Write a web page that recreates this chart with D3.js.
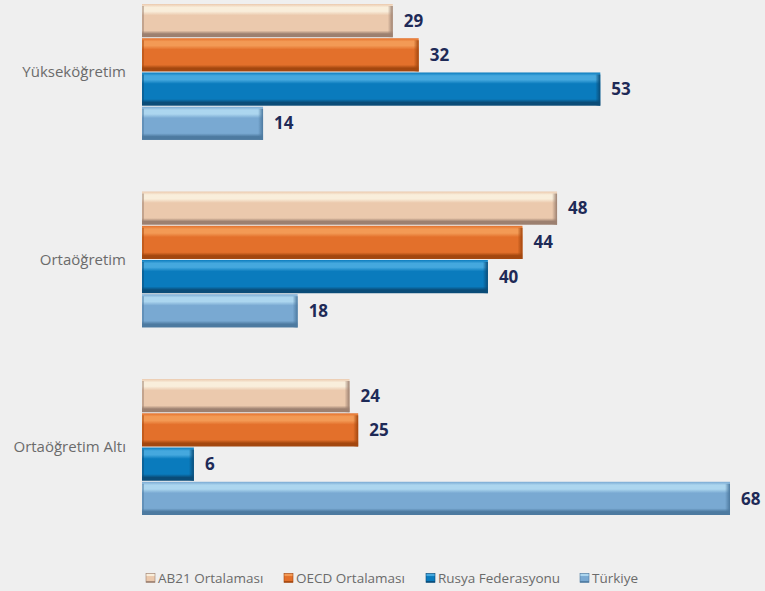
<!DOCTYPE html>
<meta charset="utf-8">
<style>
 body { margin: 0; background: #efefef; }
 .cat text { font: 15px "Open Sans", sans-serif; fill: #6b6b6b; }
 .val { font: bold 17px "Open Sans", sans-serif; fill: #1e2a57; }
 .legend text { font: 13.5px "Open Sans", sans-serif; fill: #6b6b6b; }
</style>

<svg class="chart"></svg>

<script src="https://cdn.jsdelivr.net/npm/d3@7"></script>

<script>
 var width = 765, height = 591;

 var categories = ["Yükseköğretim", "Ortaöğretim", "Ortaöğretim Altı"];
 var series = ["AB21 Ortalaması", "OECD Ortalaması", "Rusya Federasyonu", "Türkiye"];

 // values per series, in category order
 var ab21 = [29, 48, 24];
 var oecd = [32, 44, 25];
 var rusya = [53, 40, 6];
 var turkiye = [14, 18, 68];

 // base, highlight, dark edge
 var colors = [
     ["#ebc9ad", "#f9eedb", "#9c8070"],
     ["#e3702b", "#f39a55", "#a3470f"],
     ["#0a7bbd", "#45a8de", "#0a4c78"],
     ["#79a9d2", "#acd6ef", "#4d7aa0"]
 ];

 var values = [ab21, oecd, rusya, turkiye];

 var rows = [];
 categories.forEach(function(c, ci) {
     series.forEach(function(s, si) {
         rows.push({cat: c, series: s, si: si, value: values[si][ci]});
     });
 });

 var svg = d3.select(".chart").attr("width", width).attr("height", height);

 var defs = svg.append("defs");
 colors.forEach(function(col, i) {
     var g = defs.append("linearGradient").attr("id", "grad" + i)
                 .attr("x1", 0).attr("y1", 0).attr("x2", 0).attr("y2", 1);
     g.append("stop").attr("offset", "0%").attr("stop-color", col[0]);
     g.append("stop").attr("offset", "10%").attr("stop-color", col[1]);
     g.append("stop").attr("offset", "22%").attr("stop-color", col[1]);
     g.append("stop").attr("offset", "34%").attr("stop-color", col[0]);
     g.append("stop").attr("offset", "80%").attr("stop-color", col[0]);
     g.append("stop").attr("offset", "90%").attr("stop-color", col[2]);
     g.append("stop").attr("offset", "100%").attr("stop-color", col[2]);

     var e = defs.append("linearGradient").attr("id", "edge" + i)
                 .attr("x1", 0).attr("y1", 0).attr("x2", 1).attr("y2", 0);
     e.append("stop").attr("offset", "0%").attr("stop-color", col[2]).attr("stop-opacity", 0);
     e.append("stop").attr("offset", "100%").attr("stop-color", col[2]).attr("stop-opacity", 1);
 });

 var x = d3.scaleLinear().domain([0, 70]).range([142, 747.3]);

 var y0 = d3.scaleBand().domain(categories).range([4, 515])
            .paddingInner(0.275).paddingOuter(0);

 var y1 = d3.scaleBand().domain(series).range([0, y0.bandwidth()])
            .paddingInner(0.03);

 // category labels
 var cat = svg.append("g").attr("class", "cat");
 cat.selectAll("text").data(categories).enter()
    .append("text")
    .attr("x", 126)
    .attr("y", function(d) { return y0(d) + y0.bandwidth() / 2; })
    .attr("dy", "0.35em")
    .attr("text-anchor", "end")
    .text(function(d) { return d; });

 var bar = svg.append("g").selectAll("g").data(rows).enter()
     .append("g")
     .attr("transform", function(d) { return "translate(0," + (y0(d.cat) + y1(d.series)) + ")"; });

 bar.append("rect")
    .attr("x", x(0))
    .attr("width", function(d) { return x(d.value) - x(0); })
    .attr("height", y1.bandwidth())
    .attr("fill", function(d) { return "url(#grad" + d.si + ")"; });

 // left and right bevel edges
 bar.append("rect")
    .attr("x", function(d) { return x(d.value) - 5; })
    .attr("y", 2)
    .attr("width", 5)
    .attr("height", y1.bandwidth() - 2)
    .attr("fill", function(d) { return "url(#edge" + d.si + ")"; });

 bar.append("rect")
    .attr("x", x(0))
    .attr("y", 2)
    .attr("width", 2)
    .attr("height", y1.bandwidth() - 3)
    .attr("fill", function(d) { return colors[d.si][2]; })
    .attr("opacity", 0.5);

 bar.append("text")
    .attr("class", "val")
    .attr("x", function(d) { return x(d.value) + 11; })
    .attr("y", y1.bandwidth() / 2)
    .attr("dy", "0.36em")
    .text(function(d) { return d.value; });

 // legend
 var legendX = [146, 284, 426, 580];
 var legend = svg.append("g").attr("class", "legend")
     .selectAll("g").data(series).enter()
     .append("g")
     .attr("transform", function(d, i) { return "translate(" + legendX[i] + ",578)"; });

 legend.append("rect")
       .attr("x", 0).attr("y", -4.5)
       .attr("width", 9).attr("height", 9)
       .attr("fill", function(d, i) { return "url(#grad" + i + ")"; })
       .attr("stroke", function(d, i) { return colors[i][2]; })
       .attr("stroke-width", 0.6);

 legend.append("text")
       .attr("x", 12)
       .attr("dy", "0.35em")
       .text(function(d) { return d; });
</script>
